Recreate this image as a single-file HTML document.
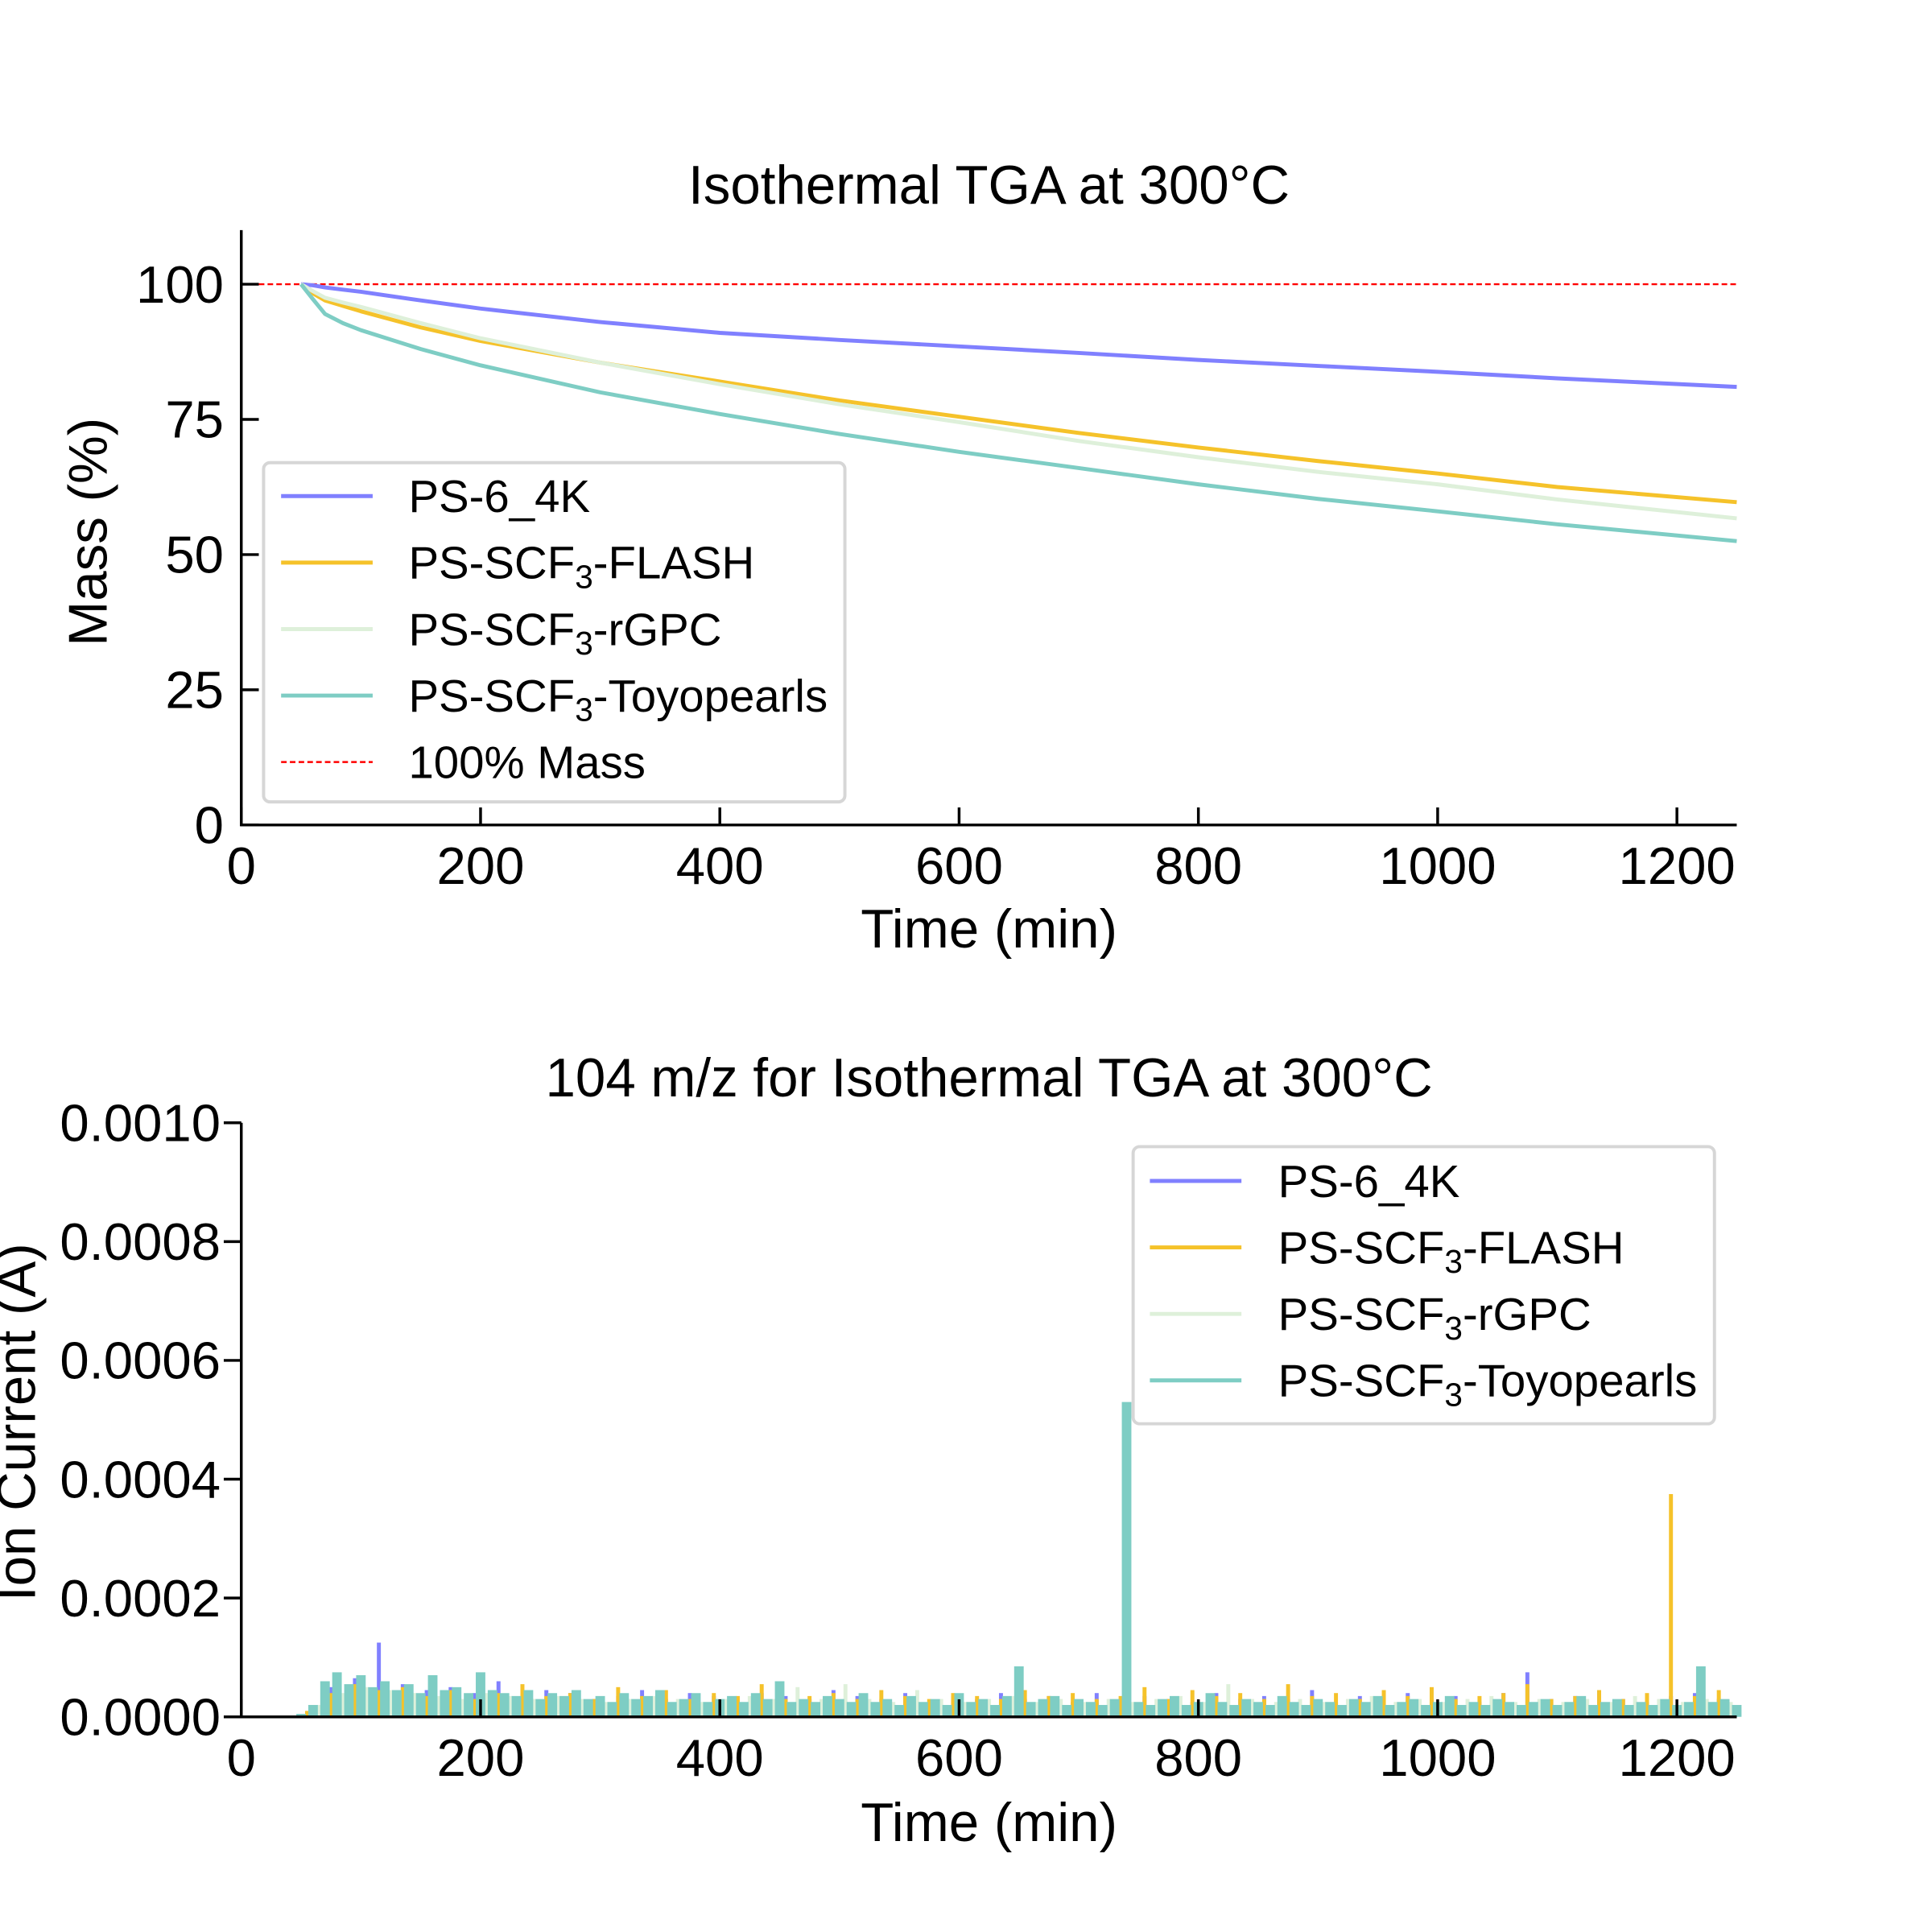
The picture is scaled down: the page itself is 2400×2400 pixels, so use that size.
<!DOCTYPE html>
<html><head><meta charset="utf-8"><style>
html,body{margin:0;padding:0;background:#fff;}
svg{display:block;font-family:"Liberation Sans",sans-serif;}
</style></head><body>
<svg id="fig" width="2400" height="2400" viewBox="0 0 2400 2400" xmlns="http://www.w3.org/2000/svg"><g id="root" transform="scale(0.9892)"></g></svg>
<script>
// ---- Top chart data (Mass %) ----
const massTimes = [50,60,70,85,100,150,200,300,400,500,600,700,800,900,1000,1100,1250];
const massBlue   = [100,99.8,99.4,99,98.6,97,95.5,93,91,89.7,88.5,87.3,86,84.9,83.8,82.6,81];
const massYellow = [100,98.3,97,96,95,92,89.5,85.5,82,78.5,75.5,72.5,69.8,67.3,65,62.5,59.7];
const massGreen  = [100,98.7,97.5,96.6,95.8,92.8,90,85.5,81.5,77.8,74.5,71,68,65.3,63,60.2,56.7];
const massTeal   = [100,97.2,94.5,92.8,91.5,88,85,80,76,72.3,69,66,63,60.3,58,55.6,52.5];
const xTicks = [0,200,400,600,800,1000,1200];
const massTicks = [0,25,50,75,100];
const ionTicks = [0,0.0002,0.0004,0.0006,0.0008,0.0010];
const ionTickLabels = ["0.0000","0.0002","0.0004","0.0006","0.0008","0.0010"];
// ---- Bottom chart data (ion current, units of 1e-6 A) ----
const ionBlueStart = 55, ionBlueStep = 20;
const ionBlue = [5,50,65,125,55,45,50,40,60,35,45,40,30,35,45,30,40,35,30,40,35,30,45,35,30,40,25,35,30,40,30,35,25,40,30,35,30,25,40,30,35,30,45,25,35,30,40,30,35,25,40,75,30,35,45,30,25,35,40,30,35];
const ionYellowStart = 55, ionYellowStep = 20;
const ionYellow = [10,40,55,45,50,35,45,30,40,55,35,40,30,50,35,45,30,40,35,55,30,35,40,30,45,35,30,40,35,30,45,35,40,30,35,50,30,45,35,40,30,55,35,40,30,45,35,50,30,35,40,55,30,35,45,30,40,375,35,45,30];
const ionGreenStart = 65, ionGreenStep = 20;
const ionGreen = [20,40,50,45,40,35,30,40,35,30,35,30,25,30,35,30,25,30,35,30,50,30,55,30,25,45,30,25,30,35,25,30,25,30,25,30,35,25,55,30,25,30,25,30,35,25,30,25,30,35,25,30,25,30,25,35,30,25,30,25];
const ionTealStart = 50, ionTealStep = 10;
const ionTeal = [5,20,60,75,55,70,50,60,45,55,40,70,45,50,40,75,45,40,35,45,30,40,35,45,30,35,25,40,30,35,45,25,30,40,25,30,35,25,40,30,60,25,30,25,35,30,25,40,25,30,20,35,25,30,20,40,25,30,20,35,85,25,30,35,20,30,25,20,30,530,25,20,30,35,20,25,40,25,20,30,25,20,35,25,20,30,25,20,30,25,35,20,25,30,20,25,35,20,25,20,30,25,20,25,30,20,25,35,20,25,30,20,25,20,30,20,25,85,25,30,20];

const colors = ["#8080ff","#f5c22a","#def0da","#7ecdc4"];
const NS = "http://www.w3.org/2000/svg";
const svg = document.getElementById("root");
function el(tag, attrs, parent){
  const e = document.createElementNS(NS, tag);
  for (const k in attrs) e.setAttribute(k, attrs[k]);
  (parent||svg).appendChild(e);
  return e;
}
const X0 = 303, X1 = 2181, XMAX = 1250;
function xs(t){ return X0 + (X1 - X0) * t / XMAX; }
const TY0 = 1036, TYTOP = 289, TYMAX = 110;
function ysTop(v){ return TY0 - (TY0 - TYTOP) * v / TYMAX; }
const BY0 = 2156, BYTOP = 1410, BYMAX = 0.0010;
function ysBot(v){ return BY0 - (BY0 - BYTOP) * v / BYMAX; }
const FT = 66, FTITLE = 68, FLAB = 68, FLEG = 57;

// ---------- TOP CHART ----------
const gTop = el("g", {});


const t1 = el("text", {x:1242, y:256, "text-anchor":"middle", "font-size":FTITLE}, gTop);
t1.textContent = "Isothermal TGA at 300°C";



const ref = el("line", {x1:X0, x2:X1, y1:ysTop(100), y2:ysTop(100), stroke:"#ff0000", "stroke-width":2.5, "stroke-dasharray":"7,4"}, gTop);



const massSeries = [massBlue, massYellow, massGreen, massTeal];
massSeries.forEach((s, i) => {
  const pts = massTimes.map((t, j) => xs(t).toFixed(1) + "," + ysTop(s[j]).toFixed(1)).join(" ");
  const p = el("polyline", {points:pts, fill:"none", stroke:colors[i], "stroke-width":5, "stroke-linejoin":"round"}, gTop);
  
  
});

el("line", {x1:X0, x2:X0, y1:TYTOP, y2:TY0+1.5, stroke:"#000", "stroke-width":3.5}, gTop);
el("line", {x1:X0-1.5, x2:X1, y1:TY0, y2:TY0, stroke:"#000", "stroke-width":3.5}, gTop);
xTicks.forEach(t => {
  el("line", {x1:xs(t), x2:xs(t), y1:TY0, y2:TY0-22, stroke:"#000", "stroke-width":3.5}, gTop);
  const tx = el("text", {x:xs(t), y:TY0+74, "text-anchor":"middle", "font-size":FT}, gTop);
  tx.textContent = t;
  
  
});
massTicks.forEach(v => {
  el("line", {x1:X0, x2:X0+22, y1:ysTop(v), y2:ysTop(v), stroke:"#000", "stroke-width":3.5}, gTop);
  const tx = el("text", {x:X0-22, y:ysTop(v)+23, "text-anchor":"end", "font-size":FT}, gTop);
  tx.textContent = v;
  
  
});
const xl1 = el("text", {x:1242, y:1190, "text-anchor":"middle", "font-size":FLAB}, gTop);
xl1.textContent = "Time (min)";


const yl1 = el("text", {x:0, y:0, "text-anchor":"middle", "font-size":FLAB, transform:"translate(134,668) rotate(-90)"}, gTop);
yl1.textContent = "Mass (%)";



function legend(x, y, w, h, rowY0, lineX0, textX, includeRef, parent, prefix){
  const g = el("g", {}, parent);
  
  
  el("rect", {x:x, y:y, width:w, height:h, rx:8, fill:"#fff", stroke:"#d6d6d6", "stroke-width":4}, g);
  const n = includeRef ? 5 : 4;
  for (let i = 0; i < n; i++){
    const ry = rowY0 + i * 83.5;
    if (i < 4){
      el("line", {x1:lineX0, x2:lineX0+115, y1:ry, y2:ry, stroke:colors[i], "stroke-width":5}, g);
    } else {
      el("line", {x1:lineX0, x2:lineX0+115, y1:ry, y2:ry, stroke:"#ff0000", "stroke-width":2.5, "stroke-dasharray":"7,4"}, g);
    }
    const tx = el("text", {x:textX, y:ry+20, "font-size":FLEG}, g);
    if (i === 0) tx.textContent = "PS-6_4K";
    else if (i === 4) tx.textContent = "100% Mass";
    else {
      const suf = ["","-FLASH","-rGPC","-Toyopearls"][i];
      tx.appendChild(document.createTextNode("PS-SCF"));
      const sub = document.createElementNS(NS, "tspan");
      sub.setAttribute("font-size", "41"); sub.setAttribute("dy", "12");
      sub.textContent = "3";
      tx.appendChild(sub);
      const rest = document.createElementNS(NS, "tspan");
      rest.setAttribute("dy", "-12");
      rest.textContent = suf;
      tx.appendChild(rest);
    }
    
    
  }
}
legend(331, 581, 730, 426, 623, 353, 513, true, gTop, 'mass');

// ---------- BOTTOM CHART ----------
const gBot = el("g", {});


const t2 = el("text", {x:1242, y:1377, "text-anchor":"middle", "font-size":FTITLE}, gBot);
t2.textContent = "104 m/z for Isothermal TGA at 300°C";



const ionSeries = [[ionBlue, ionBlueStart, ionBlueStep],[ionYellow, ionYellowStart, ionYellowStep],[ionGreen, ionGreenStart, ionGreenStep],[ionTeal, ionTealStart, ionTealStep]];
ionSeries.forEach((s, i) => {
  const vals = s[0], start = s[1], step = s[2];
  const g = el("g", {}, gBot);
  
  
  vals.forEach((v, j) => {
    const t = start + j * step;
    if (t > XMAX) return;
    const y = ysBot(v * 1e-6);
    const bar = el("line", {x1:xs(t), x2:xs(t), y1:BY0, y2:y, stroke:colors[i], "stroke-width":i===3?12:5}, g);
    
    
  });
});

el("line", {x1:X0, x2:X0, y1:BYTOP, y2:BY0+1.5, stroke:"#000", "stroke-width":3.5}, gBot);
el("line", {x1:X0-1.5, x2:X1, y1:BY0, y2:BY0, stroke:"#000", "stroke-width":3.5}, gBot);
xTicks.forEach(t => {
  el("line", {x1:xs(t), x2:xs(t), y1:BY0, y2:BY0-22, stroke:"#000", "stroke-width":3.5}, gBot);
  const tx = el("text", {x:xs(t), y:BY0+74, "text-anchor":"middle", "font-size":FT}, gBot);
  tx.textContent = t;
  
  
});
ionTicks.forEach((v, i) => {
  el("line", {x1:X0, x2:X0-22, y1:ysBot(v), y2:ysBot(v), stroke:"#000", "stroke-width":3.5}, gBot);
  const tx = el("text", {x:X0-26, y:ysBot(v)+23, "text-anchor":"end", "font-size":FT}, gBot);
  tx.textContent = ionTickLabels[i];
  
  
});
const xl2 = el("text", {x:1242, y:2312, "text-anchor":"middle", "font-size":FLAB}, gBot);
xl2.textContent = "Time (min)";


const yl2 = el("text", {x:0, y:0, "text-anchor":"middle", "font-size":FLAB, transform:"translate(44,1786) rotate(-90)"}, gBot);
yl2.textContent = "Ion Current (A)";



legend(1423, 1440, 730, 348, 1483, 1444, 1605, false, gBot, 'ion');
</script>
</body></html>
